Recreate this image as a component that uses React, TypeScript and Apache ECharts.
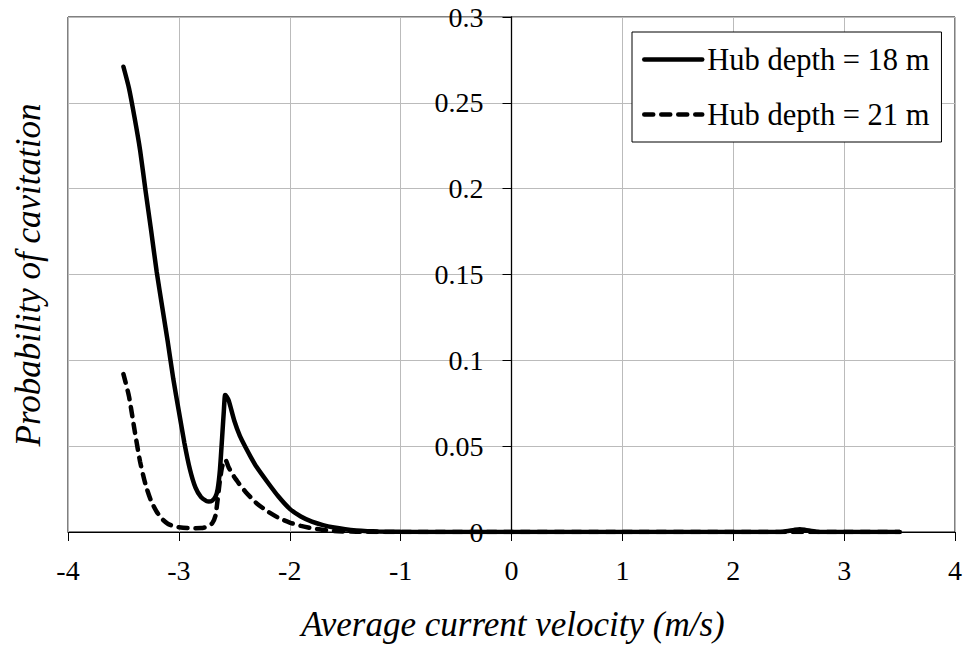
import React, { useEffect, useRef } from "react";
import * as echarts from "echarts";

// Hub depth = 18 m (solid)
const velocity18 = [
  -3.5, -3.45, -3.4, -3.35, -3.3, -3.25, -3.2, -3.15, -3.1, -3.05, -3.0, -2.95, -2.9, -2.85, -2.8,
  -2.75, -2.73, -2.7, -2.67, -2.65, -2.63, -2.61, -2.595, -2.583, -2.57, -2.55, -2.5, -2.45, -2.4,
  -2.35, -2.3, -2.2, -2.1, -2.0, -1.9, -1.8, -1.7, -1.6, -1.5, -1.4, -1.3, -1.2, -1.0, -0.5, 0,
  0.5, 1.0, 1.5, 2.0, 2.3, 2.45, 2.55, 2.6, 2.65, 2.75, 2.9, 3.2, 3.5,
];
const prob18 = [
  0.271, 0.2585, 0.2415, 0.2225, 0.1985, 0.1755, 0.1515, 0.131, 0.1107, 0.089, 0.0703, 0.0518,
  0.0364, 0.0258, 0.0203, 0.018, 0.0177, 0.0182, 0.0205, 0.025, 0.036, 0.055, 0.07, 0.0798, 0.079,
  0.0765, 0.0648, 0.056, 0.0495, 0.0435, 0.038, 0.029, 0.0205, 0.0135, 0.009, 0.006, 0.004, 0.0026,
  0.0016, 0.0009, 0.0005, 0.0003, 0.0001, 0, 0, 0, 0, 0, 0, 0, 0.0002, 0.0012, 0.0016, 0.0012,
  0.0002, 0, 0, 0,
];

// Hub depth = 21 m (dashed)
const velocity21 = [
  -3.5, -3.45, -3.4, -3.35, -3.3, -3.25, -3.2, -3.15, -3.1, -3.05, -3.0, -2.9, -2.8, -2.75, -2.7,
  -2.67, -2.65, -2.63, -2.61, -2.59, -2.58, -2.55, -2.5, -2.45, -2.4, -2.35, -2.3, -2.2, -2.1,
  -2.0, -1.9, -1.8, -1.7, -1.6, -1.5, -1.3, -1.0, 0, 1.0, 2.0, 3.0, 3.5,
];
const prob21 = [
  0.092, 0.079, 0.0595, 0.041, 0.0275, 0.018, 0.0118, 0.0075, 0.0048, 0.0035, 0.0028, 0.0022,
  0.0023, 0.003, 0.005, 0.0095, 0.019, 0.03, 0.038, 0.0415, 0.042, 0.0375, 0.032, 0.0275, 0.0235,
  0.02, 0.0168, 0.012, 0.0082, 0.0055, 0.0036, 0.0022, 0.0012, 0.0006, 0.0003, 0.0001, 0, 0, 0,
  0, 0, 0,
];

const seriesNames = ["Hub depth = 18 m", "Hub depth = 21 m"];
const xTitle = "Average current velocity (m/s)";
const yTitle = "Probability of cavitation";

const FONT = "Liberation Serif";

const GRID_LEFT = 68;
const GRID_RIGHT = 10;
const CHART_W = 965;
const X_MIN = -4;
const X_MAX = 4;

export default function App() {
  const ref = useRef<HTMLDivElement>(null);

  useEffect(() => {
    if (!ref.current) return;
    const chart = echarts.init(ref.current, null, { renderer: "svg" });
    const pairs = (xs: number[], ys: number[]) => xs.map((x, i) => [x, ys[i]]);
    const plotW = CHART_W - GRID_LEFT - GRID_RIGHT;
    const zeroOffset = -((0 - X_MIN) / (X_MAX - X_MIN)) * plotW;

    chart.setOption({
      animation: false,
      backgroundColor: "#ffffff",
      grid: {
        left: GRID_LEFT,
        right: GRID_RIGHT,
        top: 17,
        bottom: 116,
        show: true,
        borderColor: "#000000",
        borderWidth: 1,
        containLabel: false,
        outerBoundsMode: "none",
      },
      xAxis: {
        type: "value",
        min: X_MIN,
        max: X_MAX,
        interval: 1,
        axisLine: { show: true, onZero: false, lineStyle: { color: "#000", width: 1 } },
        axisTick: { show: true, length: 9, lineStyle: { color: "#000", width: 1 } },
        axisLabel: { fontFamily: FONT, fontSize: 28, color: "#000", margin: 24 },
        splitLine: { show: true, lineStyle: { color: "#bbbbbb", width: 1 } },
      },
      yAxis: {
        type: "value",
        min: 0,
        max: 0.3,
        interval: 0.05,
        offset: zeroOffset,
        axisLine: { show: true, onZero: false, lineStyle: { color: "#000", width: 1.3 } },
        axisTick: { show: true, length: 9, lineStyle: { color: "#000", width: 1 } },
        axisLabel: { fontFamily: FONT, fontSize: 28, color: "#000", margin: 28 },
        splitLine: { show: true, lineStyle: { color: "#bbbbbb", width: 1 } },
      },
      legend: {
        orient: "vertical",
        left: 632,
        top: 32,
        padding: [12, 12, 12, 10],
        itemGap: 24,
        itemWidth: 58,
        itemHeight: 14,
        backgroundColor: "#ffffff",
        borderColor: "#000000",
        borderWidth: 1,
        borderRadius: 0,
        itemStyle: { opacity: 0 },
        lineStyle: { width: 4.5 },
        textStyle: { fontFamily: FONT, fontSize: 30.5, color: "#000" },
        data: seriesNames,
      },
      graphic: [
        {
          type: "text",
          x: 513,
          y: 624,
          style: {
            text: xTitle,
            font: `italic 35px ${FONT}`,
            fill: "#000",
            align: "center",
            verticalAlign: "middle",
          },
        },
        {
          type: "text",
          x: 28,
          y: 275,
          rotation: Math.PI / 2,
          style: {
            text: yTitle,
            font: `italic 35px ${FONT}`,
            fill: "#000",
            align: "center",
            verticalAlign: "middle",
          },
        },
      ],
      series: [
        {
          name: seriesNames[1],
          type: "line",
          data: pairs(velocity21, prob21),
          symbol: "none",
          smooth: 0.2,
          lineStyle: { color: "#000", width: 4.5, type: [9, 8], cap: "round" },
          itemStyle: { color: "#000" },
          z: 2,
        },
        {
          name: seriesNames[0],
          type: "line",
          data: pairs(velocity18, prob18),
          symbol: "none",
          smooth: 0.2,
          lineStyle: { color: "#000", width: 4.5, cap: "round" },
          itemStyle: { color: "#000" },
          z: 3,
        },
      ],
    });
    return () => chart.dispose();
  }, []);

  return <div ref={ref} style={{ width: 965, height: 648, position: "absolute", left: 0, top: 0 }} />;
}
